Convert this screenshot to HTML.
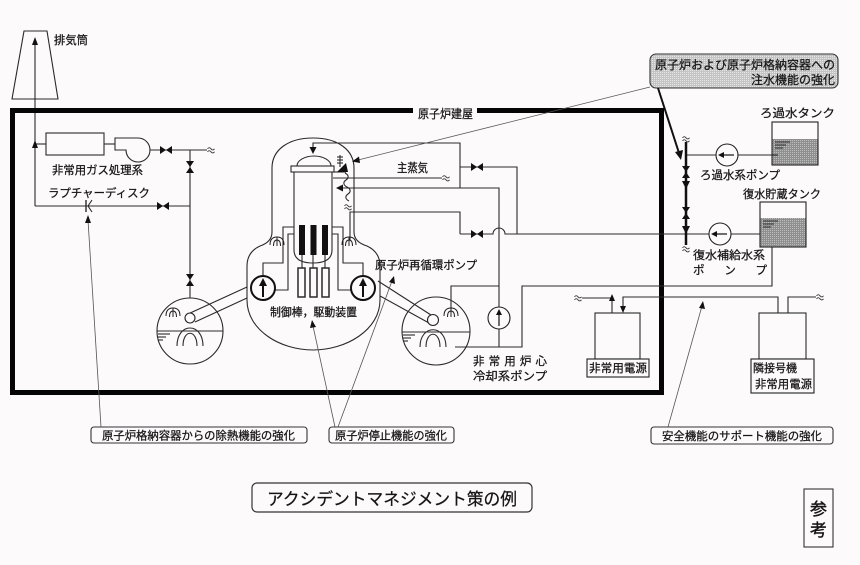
<!DOCTYPE html>
<html><head><meta charset="utf-8">
<style>
html,body{margin:0;padding:0;background:#fdfafc;}
svg{display:block;}
text{fill:#151515;stroke:#151515;stroke-width:0.25;}
</style></head>
<body>
<svg width="860" height="565" viewBox="0 0 860 565" xmlns="http://www.w3.org/2000/svg" font-family='"Liberation Sans","Noto Sans CJK JP",sans-serif'>
<defs>
  <g id="sq"><path d="M-3.5,-1.2 q1.7,-2.2 3.5,0 t3.5,0 M-3.5,1.8 q1.7,-2.2 3.5,0 t3.5,0" fill="none" stroke="#333" stroke-width="0.9"/></g>
  <g id="vh"><polygon points="-6,-4 -6,4 0,0" fill="#111"/><polygon points="6,-4 6,4 0,0" fill="#111"/></g>
  <g id="vv"><polygon points="-4,-6 4,-6 0,0" fill="#111"/><polygon points="-4,6 4,6 0,0" fill="#111"/></g>
  <g id="sp" fill="none" stroke="#222" stroke-width="1"><path d="M-7,3 Q-7,-5 0,-5 Q7,-5 7,3"/><path d="M-3.5,4 Q-3.5,-2 0,-2 Q3.5,-2 3.5,4"/><path d="M0,-5 V4"/></g>
  <pattern id="dots" width="2" height="2" patternUnits="userSpaceOnUse"><rect width="2" height="2" fill="#c4c4c4"/><rect width="1" height="1" fill="#e6e6e6"/></pattern>
  <pattern id="dots2" width="2" height="2" patternUnits="userSpaceOnUse"><rect width="2" height="2" fill="#8f8f8f"/><rect width="1" height="1" fill="#bdbdbd"/></pattern>
</defs>

<rect width="860" height="565" fill="#fdfafc"/>

<g fill="none" stroke="#2a2a2a" stroke-width="1.1">
  <polygon points="24,31 47,31 58,99 12,99"/>
  <line x1="35" y1="42" x2="35" y2="206"/>
  <polyline points="35,206 190,206"/>
  <line x1="35" y1="144" x2="46" y2="144"/>
  <rect x="46" y="133" width="58" height="22"/>
  <line x1="104" y1="144" x2="115" y2="144"/>
  <path d="M115,138 L138,138 A12,12 0 1,1 126,150 L115,150 Z"/>
  <line x1="150" y1="150" x2="207" y2="150"/>
  <line x1="190" y1="150" x2="190" y2="298"/>
  <line x1="86" y1="200" x2="86" y2="212" stroke-width="1.4"/>
  <polyline points="92,200 88,206 92,212"/>
</g>
<polygon points="35,37 32,45 38,45" fill="#111"/>
<polygon points="35,140 32,148 38,148" fill="#111"/>
<use href="#vh" x="166" y="150"/>
<use href="#vv" x="190" y="167"/>
<use href="#vh" x="163" y="206"/>
<use href="#vv" x="190" y="280"/>
<use href="#sq" x="211" y="150"/>

<rect x="12.5" y="110.5" width="649" height="282" fill="none" stroke="#050505" stroke-width="5"/>
<rect x="413" y="104" width="64" height="14" fill="#fdfafc"/>
<text x="418" y="118" font-size="12" textLength="55" lengthAdjust="spacingAndGlyphs">原子炉建屋</text>

<text x="54" y="44" font-size="11.5" textLength="34" lengthAdjust="spacingAndGlyphs">排気筒</text>
<text x="52" y="174" font-size="11.5" textLength="91" lengthAdjust="spacingAndGlyphs">非常用ガス処理系</text>
<text x="48" y="197" font-size="11.5" textLength="102" lengthAdjust="spacingAndGlyphs">ラプチャーディスク</text>

<g fill="none" stroke="#2a2a2a" stroke-width="1.1">
  <path d="M272,232 L272,168 C272,150 288,138 313,138 C338,138 354,150 354,168 L354,232"/>
  <path d="M272,232 Q272,242 260,246 Q247,252 247,266 L247,300 C247,330 280,350 313,350 C346,350 380,330 380,300 L380,266 Q380,252 367,246 Q354,242 354,232"/>
  <path d="M297,166 A17,10 0 0,1 331,166"/>
  <rect x="291" y="166" width="43" height="6"/>
  <path d="M294,172 L294,250 Q294,263 313,263 Q332,263 332,250 L332,172"/>
  <path d="M263,276 V263 H283 V227 H294"/>
  <path d="M275,290 H288 V234 H294"/>
  <path d="M363,276 V263 H343 V227 H332"/>
  <path d="M351,290 H338 V234 H332"/>
  <rect x="298" y="268" width="7" height="29" stroke-width="1.5"/>
  <rect x="310" y="268" width="7" height="29" stroke-width="1.5"/>
  <rect x="322" y="268" width="7" height="29" stroke-width="1.5"/>
  <line x1="302" y1="255" x2="302" y2="268"/>
  <line x1="313" y1="255" x2="313" y2="268"/>
  <line x1="325" y1="255" x2="325" y2="268"/>
  <polyline points="313,149 313,143 460,143 460,188"/>
  <polyline points="460,167 517,167 517,234"/>
  <line x1="333" y1="178" x2="442" y2="178"/>
  <polyline points="340,188 499,188 499,347"/>
  <polyline points="350,240 350,212 460,212 460,234"/>
  <path d="M460,234 H493 A6,6 0 0,1 505,234 H777"/>
  <path d="M345,173 c4,2 4,5 1,7 c-3,2 -3,5 1,7 c4,2 4,5 1,7 c-3,2 -3,5 1,7"/>
  <line x1="340" y1="155" x2="340" y2="167"/>
  <line x1="337" y1="157" x2="343" y2="157"/>
  <line x1="337" y1="160" x2="343" y2="160"/>
  <line x1="337" y1="163" x2="343" y2="163"/>
  <line x1="333" y1="172" x2="346" y2="172"/>
  <line x1="247" y1="287" x2="188" y2="314"/>
  <line x1="247" y1="298" x2="195" y2="322"/>
  <line x1="378" y1="281" x2="431" y2="315"/>
  <line x1="380" y1="296" x2="429" y2="323"/>
  <circle cx="190" cy="331" r="33"/>
  <line x1="157" y1="331" x2="223" y2="331"/>
  <path d="M177,346 C177,322 203,322 203,346 M183,346 C183,329 197,329 197,346"/>
  <line x1="158" y1="334" x2="170" y2="334"/><line x1="158" y1="337" x2="166" y2="337"/><line x1="158" y1="340" x2="163" y2="340"/>
  <circle cx="436" cy="331" r="34"/>
  <line x1="402" y1="332" x2="470" y2="332"/>
  <path d="M420,347 C420,324 446,324 446,347 M426,347 C426,330 440,330 440,347"/>
  <line x1="403" y1="335" x2="415" y2="335"/><line x1="403" y1="338" x2="411" y2="338"/><line x1="403" y1="341" x2="408" y2="341"/>
  <polyline points="451,309 451,286 499,286"/>
  <polyline points="455,347 522,347 522,286 772,286 772,247"/>
  <line x1="686" y1="155" x2="777" y2="155"/>
  <polyline points="582,298 612,298 612,313"/>
  <polyline points="623,310 623,297 778,297 778,313"/>
  <polyline points="788,313 788,297 816,297"/>
  <rect x="595" y="313" width="45" height="46"/>
  <rect x="759" y="313" width="47" height="46"/>
</g>
<circle cx="190" cy="318" r="5" fill="#fdfafc" stroke="#222" stroke-width="1.1"/>
<circle cx="433" cy="320" r="5.5" fill="#fdfafc" stroke="#222" stroke-width="1.1"/>
<polygon points="313,154 309.5,147 316.5,147" fill="#111"/>
<polygon points="336,188 343,184.5 343,191.5" fill="#111"/>
<polygon points="337,172 346,163 348,172" fill="#111"/>
<use href="#sq" x="446" y="178"/>
<use href="#sq" x="348" y="207"/>
<use href="#vh" x="477" y="167"/>
<use href="#vh" x="477" y="234"/>
<use href="#sp" x="277" y="242"/>
<use href="#sp" x="349" y="242"/>
<use href="#sp" x="173" y="313"/>
<use href="#sp" x="451" y="313"/>

<rect x="299" y="225" width="6" height="30" fill="#111"/>
<rect x="310.5" y="225" width="6" height="30" fill="#111"/>
<rect x="322" y="225" width="6" height="30" fill="#111"/>

<g fill="none" stroke="#111" stroke-width="2">
  <circle cx="263" cy="288" r="12"/>
  <circle cx="363" cy="288" r="12"/>
  <line x1="263" y1="297" x2="263" y2="284"/>
  <line x1="363" y1="297" x2="363" y2="284"/>
</g>
<polygon points="263,278 259,286 267,286" fill="#111"/>
<polygon points="363,278 359,286 367,286" fill="#111"/>

<circle cx="499" cy="318" r="11" fill="#fdfafc" stroke="#222" stroke-width="1.1"/>
<line x1="499" y1="326" x2="499" y2="314" stroke="#111" stroke-width="1.2"/>
<polygon points="499,309 496,315 502,315" fill="#111"/>

<line x1="686" y1="142" x2="686" y2="245" stroke="#111" stroke-width="2.5"/>
<use href="#vv" x="686" y="172"/>
<use href="#vv" x="686" y="213"/>
<polygon points="682,181 690,181 686,189" fill="#111"/>
<polygon points="682,226 690,226 686,234" fill="#111"/>
<use href="#sq" x="686" y="139"/>
<use href="#sq" x="686" y="249"/>

<circle cx="727" cy="155" r="11" fill="#fdfafc" stroke="#222" stroke-width="1.1"/>
<line x1="722" y1="155" x2="734" y2="155" stroke="#111" stroke-width="1.2"/>
<polygon points="718,155 724,152 724,158" fill="#111"/>
<circle cx="720" cy="234" r="11" fill="#fdfafc" stroke="#222" stroke-width="1.1"/>
<line x1="715" y1="234" x2="727" y2="234" stroke="#111" stroke-width="1.2"/>
<polygon points="711,234 717,231 717,237" fill="#111"/>

<rect x="772" y="139" width="46" height="26" fill="url(#dots2)"/>
<rect x="772" y="122" width="46" height="43" fill="none" stroke="#222" stroke-width="1.1"/>
<g stroke="#222" stroke-width="0.9"><line x1="775" y1="142" x2="790" y2="142"/><line x1="775" y1="145" x2="786" y2="145"/><line x1="775" y1="148" x2="783" y2="148"/></g>
<line x1="772" y1="155" x2="778" y2="155" stroke="#222" stroke-width="1.1"/>
<rect x="760" y="218" width="46" height="29" fill="url(#dots2)"/>
<rect x="760" y="202" width="46" height="45" fill="none" stroke="#222" stroke-width="1.1"/>
<g stroke="#222" stroke-width="0.9"><line x1="763" y1="221" x2="778" y2="221"/><line x1="763" y1="224" x2="774" y2="224"/><line x1="763" y1="227" x2="771" y2="227"/></g>

<polygon points="612,294 609,301 615,301" fill="#111"/>
<polygon points="623,313 620,306 626,306" fill="#111"/>
<use href="#sq" x="578" y="298"/>
<use href="#sq" x="820" y="297"/>

<text x="397" y="172" font-size="12" textLength="31" lengthAdjust="spacingAndGlyphs">主蒸気</text>
<text x="270" y="316" font-size="11.5" textLength="87" lengthAdjust="spacingAndGlyphs">制御棒，駆動装置</text>
<text x="375" y="269" font-size="11.3" textLength="102" lengthAdjust="spacingAndGlyphs">原子炉再循環ポンプ</text>
<text x="473" y="365" font-size="11.5" textLength="74" lengthAdjust="spacing">非常用炉心</text>
<text x="473" y="380" font-size="11.5" textLength="74" lengthAdjust="spacingAndGlyphs">冷却系ポンプ</text>
<text x="760" y="117" font-size="11.5" textLength="75" lengthAdjust="spacingAndGlyphs">ろ過水タンク</text>
<text x="700" y="179" font-size="11.5" textLength="80" lengthAdjust="spacingAndGlyphs">ろ過水系ポンプ</text>
<text x="743" y="198" font-size="11.5" textLength="78" lengthAdjust="spacingAndGlyphs">復水貯蔵タンク</text>
<text x="693" y="259" font-size="11.5" textLength="72" lengthAdjust="spacingAndGlyphs">復水補給水系</text>
<text x="693" y="274" font-size="11.5" textLength="74" lengthAdjust="spacing">ポンプ</text>

<rect x="587" y="359" width="62" height="18" fill="#fdfafc" stroke="#222" stroke-width="1.1"/>
<text x="589" y="372" font-size="11.5" textLength="58" lengthAdjust="spacingAndGlyphs">非常用電源</text>
<rect x="751" y="359" width="63" height="34" fill="#fdfafc" stroke="#222" stroke-width="1.1"/>
<text x="753" y="372" font-size="11.5" textLength="44" lengthAdjust="spacingAndGlyphs">隣接号機</text>
<text x="755" y="388" font-size="11.5" textLength="57" lengthAdjust="spacingAndGlyphs">非常用電源</text>

<rect x="650" y="54" width="188" height="34" rx="6" fill="url(#dots)" stroke="#333" stroke-width="1.1"/>
<text x="655" y="69" font-size="12" textLength="180" lengthAdjust="spacingAndGlyphs">原子炉および原子炉格納容器への</text>
<text x="751" y="84" font-size="12" textLength="84" lengthAdjust="spacingAndGlyphs">注水機能の強化</text>
<line x1="650" y1="87" x2="358" y2="160" stroke="#555" stroke-width="0.8"/>
<polygon points="352,161.5 359,156.5 360,163" fill="#111"/>
<line x1="658" y1="88" x2="679" y2="153" stroke="#111" stroke-width="2"/>
<polygon points="681,160 675,152 683,150" fill="#111"/>

<g stroke="#555" stroke-width="0.8">
  <line x1="101" y1="427" x2="88" y2="220"/>
  <line x1="335" y1="427" x2="313" y2="326"/>
  <line x1="338" y1="427" x2="392" y2="281"/>
  <line x1="668" y1="427" x2="702" y2="306"/>
</g>
<polygon points="88,215 85,223 91,223" fill="#111"/>
<polygon points="312,320 310,328 316,327" fill="#111"/>
<polygon points="394,276 389,282 395,284" fill="#111"/>
<polygon points="703,301 699,308 705,309" fill="#111"/>

<rect x="91" y="427" width="216" height="16" rx="3" fill="#fdfafc" stroke="#333" stroke-width="1.1"/>
<text x="102" y="439.5" font-size="11.4" textLength="193" lengthAdjust="spacingAndGlyphs">原子炉格納容器からの除熱機能の強化</text>
<rect x="329" y="427" width="125" height="16" rx="3" fill="#fdfafc" stroke="#333" stroke-width="1.1"/>
<text x="335" y="439.5" font-size="11.4" textLength="112" lengthAdjust="spacingAndGlyphs">原子炉停止機能の強化</text>
<rect x="651" y="427" width="182" height="17" rx="3" fill="#fdfafc" stroke="#333" stroke-width="1.1"/>
<text x="662" y="440" font-size="11.4" textLength="160" lengthAdjust="spacingAndGlyphs">安全機能のサポート機能の強化</text>

<rect x="252" y="483" width="280" height="29" rx="5" fill="#fdfafc" stroke="#333" stroke-width="1.2"/>
<text x="267" y="505" font-size="17" textLength="250" lengthAdjust="spacingAndGlyphs">アクシデントマネジメント策の例</text>

<rect x="804" y="489" width="29" height="58" fill="#fdfafc" stroke="#333" stroke-width="1.1"/>
<text x="818.5" y="515" font-size="17" text-anchor="middle" style="stroke-width:0.4">参</text>
<text x="818.5" y="536" font-size="17" text-anchor="middle" style="stroke-width:0.4">考</text>
</svg>
</body></html>
